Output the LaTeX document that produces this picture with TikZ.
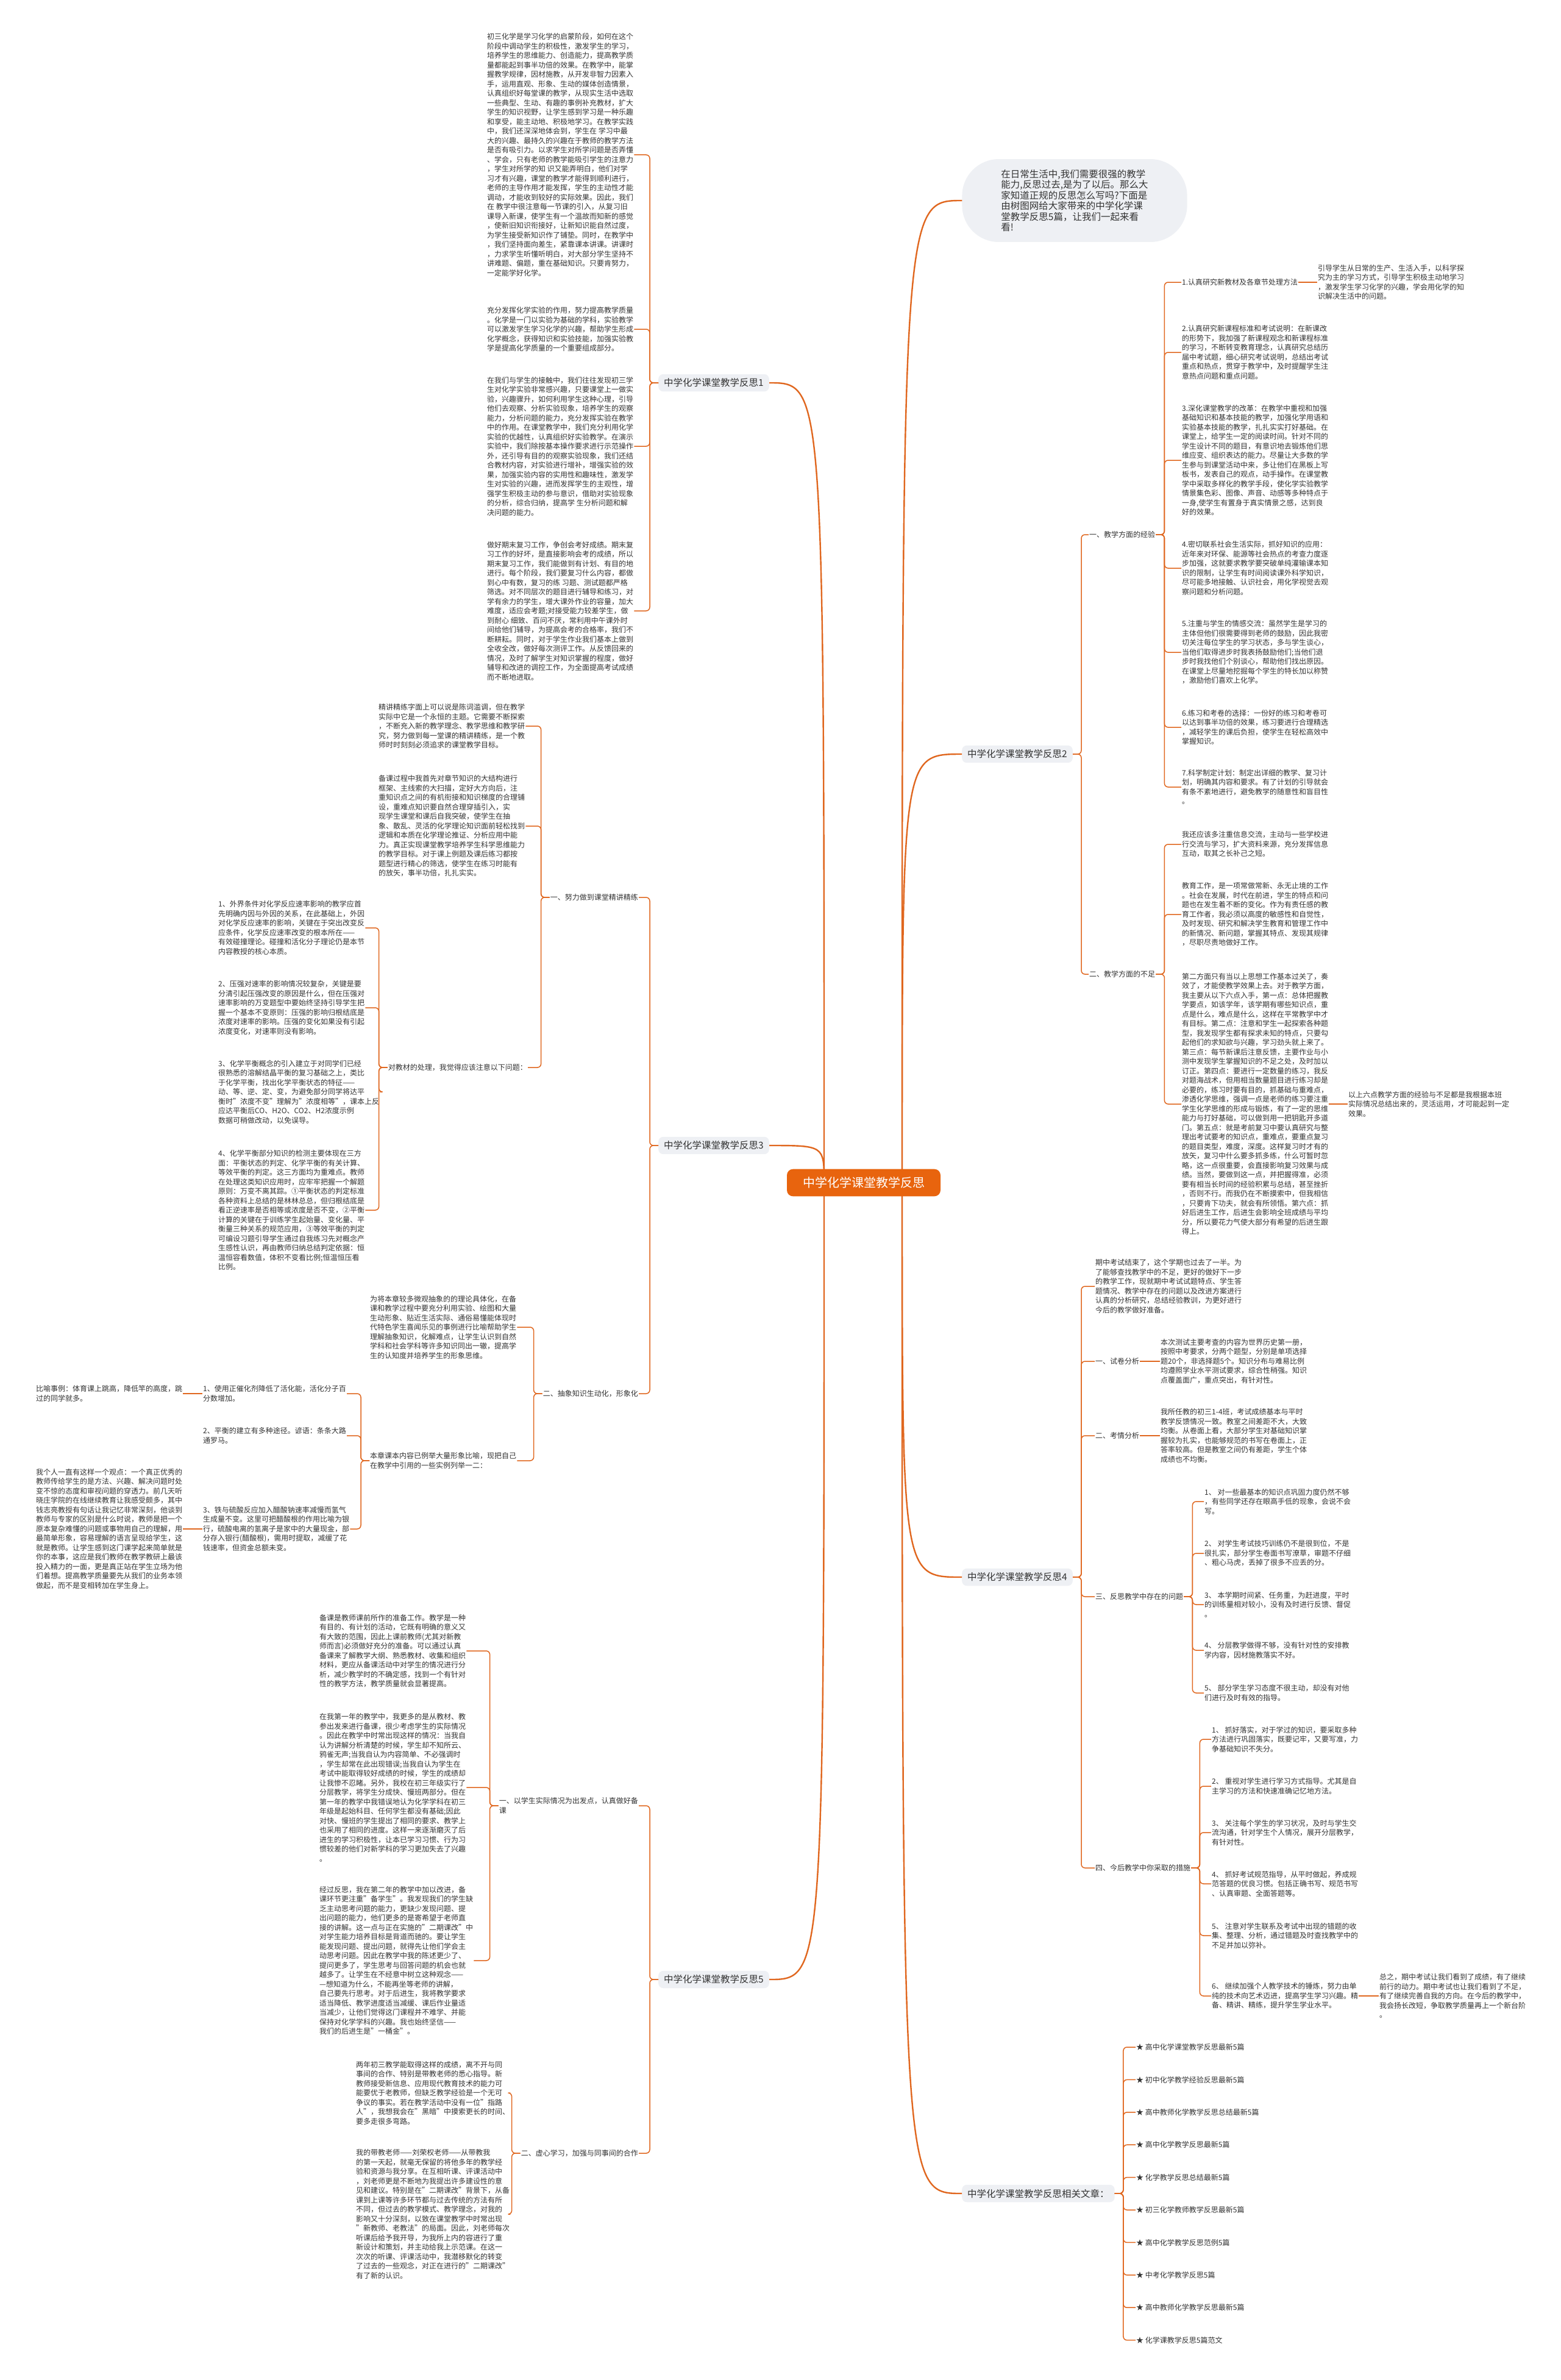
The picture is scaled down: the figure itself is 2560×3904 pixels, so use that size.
\documentclass[tikz,border=0pt]{standalone}
\usepackage{fontspec}
\setmainfont{Noto Sans CJK SC}
\XeTeXlinebreaklocale "zh"
\definecolor{linec}{HTML}{E0671F}
\definecolor{rootc}{HTML}{E8640E}
\definecolor{bubc}{HTML}{EEF0F4}
\definecolor{txtc}{HTML}{333333}
\tikzset{
  txt/.style={font=\fontsize{12}{15.5}\selectfont,align=left,text=txtc,inner sep=1pt},
  brn/.style={font=\fontsize{15.5}{18}\selectfont,text=txtc,fill=bubc,rounded corners=8pt,inner xsep=9pt,inner ysep=7pt},
  rootbox/.style={font=\fontsize{20}{24}\selectfont,text=white,fill=rootc,rounded corners=10pt,inner xsep=26pt,inner ysep=13pt},
  bub/.style={font=\fontsize{15.5}{17.5}\selectfont,align=left,text=txtc,fill=bubc,rounded corners=60pt,inner xsep=64pt,inner ysep=17pt},
  lnk/.style={draw=linec,line width=1.5pt,rounded corners=6pt},
  trk/.style={draw=linec,line width=2.4pt}
}

\begin{document}
\begin{tikzpicture}[x=1pt,y=-1pt]
	\fill[white] (0,0) rectangle (2560,3904);
	\useasboundingbox (0,0) rectangle (2560,3904);

	% intro
	\node[bub] (intro) at (1763,329) {在日常生活中,我们需要很强的教学\\能力,反思过去,是为了以后。那么大\\家知道正规的反思怎么写吗?下面是\\由树图网给大家带来的中学化学课\\堂教学反思5篇，让我们一起来看\\看!};

	% branch 1
	\node[brn,anchor=east] (b1) at (1262,628) {中学化学课堂教学反思1};
	\node[txt,anchor=west] (b1a) at (798,254) {初三化学是学习化学的启蒙阶段，如何在这个\\阶段中调动学生的积极性，激发学生的学习，\\培养学生的思维能力、创造能力，提高教学质\\量都能起到事半功倍的效果。在教学中，能掌\\握教学规律，因材施教，从开发非智力因素入\\手，运用直观、形象、生动的媒体创造情景，\\认真组织好每堂课的教学，从现实生活中选取\\一些典型、生动、有趣的事例补充教材，扩大\\学生的知识视野，让学生感到学习是一种乐趣\\和享受，能主动地、积极地学习。在教学实践\\中，我们还深深地体会到，学生在 学习中最\\大的兴趣、最持久的兴趣在于教师的教学方法\\是否有吸引力。以求学生对所学问题是否弄懂\\、学会，只有老师的教学能吸引学生的注意力\\，学生对所学的知 识又能弄明白，他们对学\\习才有兴趣，课堂的教学才能得到顺利进行，\\老师的主导作用才能发挥，学生的主动性才能\\调动，才能收到较好的实际效果。因此，我们\\在 教学中很注意每一节课的引入，从复习旧\\课导入新课，使学生有一个温故而知新的感觉\\，使新旧知识衔接好，让新知识能自然过度，\\为学生接受新知识作了铺垫。同时，在教学中\\，我们坚持面向差生，紧靠课本讲课。讲课时\\，力求学生听懂听明白，对大部分学生坚持不\\讲难题、偏题，重在基础知识。只要肯努力，\\一定能学好化学。};
	\node[txt,anchor=west] (b1b) at (798,540) {充分发挥化学实验的作用，努力提高教学质量\\。化学是一门以实验为基础的学科，实验教学\\可以激发学生学习化学的兴趣，帮助学生形成\\化学概念，获得知识和实验技能，加强实验教\\学是提高化学质量的一个重要组成部分。};
	\node[txt,anchor=west] (b1c) at (798,732) {在我们与学生的接触中，我们往往发现初三学\\生对化学实验非常感兴趣，只要课堂上一做实\\验，兴趣骤升，如何利用学生这种心理，引导\\他们去观察、分析实验现象，培养学生的观察\\能力，分析问题的能力，充分发挥实验在教学\\中的作用。在课堂教学中，我们充分利用化学\\实验的优越性，认真组织好实验教学。在演示\\实验中，我们除按基本操作要求进行示范操作\\外，还引导有目的的观察实验现象，我们还结\\合教材内容，对实验进行增补，增强实验的效\\果，加强实验内容的实用性和趣味性，激发学\\生对实验的兴趣，进而发挥学生的主观性，增\\强学生积极主动的参与意识，借助对实验现象\\的分析，综合归纳，提高学 生分析问题和解\\决问题的能力。};
	\node[txt,anchor=west] (b1d) at (798,1002) {做好期末复习工作，争创会考好成绩。期末复\\习工作的好坏，是直接影响会考的成绩，所以\\期末复习工作，我们能做到有计划、有目的地\\进行。每个阶段，我们要复习什么内容，都做\\到心中有数，复习的练 习题、测试题都严格\\筛选。对不同层次的题目进行辅导和练习，对\\学有余力的学生，增大课外作业的容量，加大\\难度，适应会考题;对接受能力较差学生，做\\到耐心 细致、百问不厌，常利用中午课外时\\间给他们辅导，为提高会考的合格率，我们不\\断耕耘。同时，对于学生作业我们基本上做到\\全收全改，做好每次测评工作。从反馈回来的\\情况，及时了解学生对知识掌握的程度，做好\\辅导和改进的调控工作，为全面提高考试成绩\\而不断地进取。};

	% branch 2
	\node[brn,anchor=west] (b2) at (1578,1237) {中学化学课堂教学反思2};
	\node[txt,anchor=west] (s21) at (1786,877) {一、教学方面的经验};
	\node[txt,anchor=west] (s22) at (1786,1598) {二、教学方面的不足};
	\node[txt,anchor=west] (i1) at (1938,463) {1.认真研究新教材及各章节处理方法};
	\node[txt,anchor=west] (i1x) at (2161,463) {引导学生从日常的生产、生活入手，以科学探\\究为主的学习方式，引导学生积极主动地学习\\，激发学生学习化学的兴趣，学会用化学的知\\识解决生活中的问题。};
	\node[txt,anchor=west] (i2) at (1938,578) {2.认真研究新课程标准和考试说明：在新课改\\的形势下，我加强了新课程观念和新课程标准\\的学习，不断转变教育理念，认真研究总结历\\届中考试题，细心研究考试说明，总结出考试\\重点和热点，贯穿于教学中，及时提醒学生注\\意热点问题和重点问题。};
	\node[txt,anchor=west] (i3) at (1938,755) {3.深化课堂教学的改革：在教学中重视和加强\\基础知识和基本技能的教学，加强化学用语和\\实验基本技能的教学，扎扎实实打好基础。在\\课堂上，给学生一定的阅读时间。针对不同的\\学生设计不同的题目，有意识地去锻炼他们思\\维应变、组织表达的能力。尽量让大多数的学\\生参与到课堂活动中来，多让他们在黑板上写\\板书，发表自己的观点，动手操作。在课堂教\\学中采取多样化的教学手段，使化学实验教学\\情景集色彩、图像、声音、动感等多种特点于\\一身,使学生有置身于真实情景之感，达到良\\好的效果。};
	\node[txt,anchor=west] (i4) at (1938,932) {4.密切联系社会生活实际，抓好知识的应用：\\近年来对环保、能源等社会热点的考查力度逐\\步加强，这就要求教学要突破单纯灌输课本知\\识的限制，让学生有时间阅读课外科学知识，\\尽可能多地接触、认识社会，用化学视觉去观\\察问题和分析问题。};
	\node[txt,anchor=west] (i5) at (1938,1070) {5.注重与学生的情感交流：虽然学生是学习的\\主体但他们很需要得到老师的鼓励，因此我密\\切关注每位学生的学习状态，多与学生谈心，\\当他们取得进步时我表扬鼓励他们;当他们退\\步时我找他们个别谈心，帮助他们找出原因。\\在课堂上尽量地挖掘每个学生的特长加以称赞\\，激励他们喜欢上化学。};
	\node[txt,anchor=west] (i6) at (1938,1193) {6.练习和考卷的选择：一份好的练习和考卷可\\以达到事半功倍的效果，练习要进行合理精选\\，减轻学生的课后负担，使学生在轻松高效中\\掌握知识。};
	\node[txt,anchor=west] (i7) at (1938,1291) {7.科学制定计划：制定出详细的教学、复习计\\划，明确其内容和要求。有了计划的引导就会\\有条不紊地进行，避免教学的随意性和盲目性\\。};
	\node[txt,anchor=west] (j1) at (1938,1385) {我还应该多注重信息交流，主动与一些学校进\\行交流与学习，扩大资料来源，充分发挥信息\\互动，取其之长补己之短。};
	\node[txt,anchor=west] (j2) at (1938,1500) {教育工作，是一项常做常新、永无止境的工作\\。社会在发展，时代在前进，学生的特点和问\\题也在发生着不断的变化。作为有责任感的教\\育工作者，我必须以高度的敏感性和自觉性，\\及时发现、研究和解决学生教育和管理工作中\\的新情况、新问题，掌握其特点、发现其规律\\，尽职尽责地做好工作。};
	\node[txt,anchor=west] (j3) at (1938,1811) {第二方面只有当以上思想工作基本过关了，奏\\效了，才能使教学效果上去。对于教学方面，\\我主要从以下六点入手，第一点：总体把握教\\学要点，如该学年，该学期有哪些知识点，重\\点是什么，难点是什么，这样在平常教学中才\\有目标。第二点：注意和学生一起探索各种题\\型，我发现学生都有探求未知的特点，只要勾\\起他们的求知欲与兴趣，学习劲头就上来了。\\第三点：每节新课后注意反馈，主要作业与小\\测中发现学生掌握知识的不足之处，及时加以\\订正。第四点：要进行一定数量的练习，我反\\对题海战术，但用相当数量题目进行练习却是\\必要的，练习时要有目的，抓基础与重难点，\\渗透化学思维，强调一点是老师的练习要注重\\学生化学思维的形成与锻炼，有了一定的思维\\能力与打好基础，可以做到用一把钥匙开多道\\门。第五点：就是考前复习中要认真研究与整\\理出考试要考的知识点，重难点，要重点复习\\的题目类型，难度，深度。这样复习时才有的\\放矢，复习中什么要多抓多练，什么可暂时忽\\略，这一点很重要，会直接影响复习效果与成\\绩。当然，要做到这一点，并把握得准，必须\\要有相当长时间的经验积累与总结，甚至挫折\\，否则不行。而我仍在不断摸索中，但我相信\\，只要肯下功夫，就会有所领悟。第六点：抓\\好后进生工作，后进生会影响全班成绩与平均\\分，所以要花力气使大部分有希望的后进生跟\\得上。};
	\node[txt,anchor=west] (j3x) at (2211,1811) {以上六点教学方面的经验与不足都是我根据本班\\实际情况总结出来的，灵活运用，才可能起到一定\\效果。};

	% branch 3
	\node[brn,anchor=east] (b3) at (1262,1879) {中学化学课堂教学反思3};
	\node[txt,anchor=east] (s31) at (1048,1472) {一、努力做到课堂精讲精练};
	\node[txt,anchor=west] (c31a) at (620,1191) {精讲精练字面上可以说是陈词滥调，但在教学\\实际中它是一个永恒的主题。它需要不断探索\\，不断充入新的教学理念、教学思维和教学研\\究，努力做到每一堂课的精讲精练，是一个教\\师时时刻刻必须追求的课堂教学目标。};
	\node[txt,anchor=west] (c31b) at (620,1355) {备课过程中我首先对章节知识的大结构进行\\框架、主线索的大扫描，定好大方向后，注\\重知识点之间的有机衔接和知识梯度的合理铺\\设，重难点知识要自然合理穿插引入，实\\现学生课堂和课后自我突破，使学生在抽\\象、散乱、灵活的化学理论知识面前轻松找到\\逻辑和本质在化学理论推证、分析应用中能\\力。真正实现课堂教学培养学生科学思维能力\\的教学目标。对于课上例题及课后练习都按\\题型进行精心的筛选，使学生在练习时能有\\的放矢，事半功倍，扎扎实实。};
	\node[txt,anchor=east] (s32) at (866,1751) {对教材的处理，我觉得应该注意以下问题：};
	\node[txt,anchor=west] (q1) at (357,1522) {1、外界条件对化学反应速率影响的教学应首\\先明确内因与外因的关系，在此基础上，外因\\对化学反应速率的影响，关键在于突出改变反\\应条件，化学反应速率改变的根本所在——\\有效碰撞理论。碰撞和活化分子理论仍是本节\\内容教授的核心本质。};
	\node[txt,anchor=west] (q2) at (357,1653) {2、压强对速率的影响情况较复杂，关键是要\\分清引起压强改变的原因是什么，但在压强对\\速率影响的万变题型中要始终坚持引导学生把\\握一个基本不变原则：压强的影响归根结底是\\浓度对速率的影响。压强的变化如果没有引起\\浓度变化，对速率则没有影响。};
	\node[txt,anchor=west] (q3) at (357,1791) {3、化学平衡概念的引入建立于对同学们已经\\很熟悉的溶解结晶平衡的复习基础之上，类比\\于化学平衡，找出化学平衡状态的特征——\\动、等、逆、定、变，为避免部分同学将达平\\衡时"浓度不变"理解为"浓度相等"，课本上反\\应达平衡后CO、H2O、CO2、H2浓度示例\\数据可稍做改动，以免误导。};
	\node[txt,anchor=west] (q4) at (357,1985) {4、化学平衡部分知识的检测主要体现在三方\\面：平衡状态的判定、化学平衡的有关计算、\\等效平衡的判定。这三方面均为重难点。教师\\在处理这类知识应用时，应牢牢把握一个解题\\原则：万变不离其踪。①平衡状态的判定标准\\各种资料上总结的是林林总总，但归根结底是\\看正逆速率是否相等或浓度是否不变，②平衡\\计算的关键在于训练学生起始量、变化量、平\\衡量三种关系的规范应用，③等效平衡的判定\\可编设习题引导学生通过自我练习先对概念产\\生感性认识，再由教师归纳总结判定依据：恒\\温恒容看数值，体积不变看比例;恒温恒压看\\比例。};
	\node[txt,anchor=east] (s33) at (1048,2286) {二、抽象知识生动化，形象化};
	\node[txt,anchor=west] (c33a) at (606,2177) {为将本章较多微观抽象的的理论具体化，在备\\课和教学过程中要充分利用实验、绘图和大量\\生动形象、贴近生活实际、通俗易懂能体现时\\代特色学生喜闻乐见的事例进行比喻帮助学生\\理解抽象知识，化解难点，让学生认识到自然\\学科和社会学科等许多知识同出一辙，提高学\\生的认知度并培养学生的形象思维。};
	\node[txt,anchor=west] (s34) at (606,2396) {本章课本内容已例举大量形象比喻，现把自己\\在教学中引用的一些实例列举一二：};
	\node[txt,anchor=west] (k1) at (332,2286) {1、使用正催化剂降低了活化能，活化分子百\\分数增加。};
	\node[txt,anchor=west] (k2) at (332,2355) {2、平衡的建立有多种途径。谚语：条条大路\\通罗马。};
	\node[txt,anchor=west] (k3) at (332,2508) {3、铁与硫酸反应加入醋酸钠速率减慢而氢气\\生成量不变。这里可把醋酸根的作用比喻为银\\行，硫酸电离的氢离子是家中的大量现金，部\\分存入银行(醋酸根)，需用时提取，减缓了花\\钱速率，但资金总额未变。};
	\node[txt,anchor=west] (k1x) at (58,2286) {比喻事例：体育课上跳高，降低竿的高度，跳\\过的同学就多。};
	\node[txt,anchor=west] (k3x) at (58,2508) {我个人一直有这样一个观点：一个真正优秀的\\教师传给学生的是方法、兴趣、解决问题时处\\变不惊的态度和审视问题的穿透力。前几天听\\晓庄学院的在线继续教育让我感受颇多，其中\\钱志亮教授有句话让我记忆非常深刻，他谈到\\教师与专家的区别是什么时说，教师是把一个\\原本复杂难懂的问题或事物用自己的理解，用\\最简单形象，容易理解的语言呈现给学生，这\\就是教师。让学生感到这门课学起来简单就是\\你的本事，这应是我们教师在教学教研上最该\\投入精力的一面，更是真正站在学生立场为他\\们着想。提高教学质量要先从我们的业务本领\\做起，而不是变相转加在学生身上。};

	% branch 4
	\node[brn,anchor=west] (b4) at (1578,2587) {中学化学课堂教学反思4};
	\node[txt,anchor=west] (d0) at (1796,2110) {期中考试结束了，这个学期也过去了一半。为\\了能够查找教学中的不足，更好的做好下一步\\的教学工作，现就期中考试试题特点、学生答\\题情况、教学中存在的问题以及改进方案进行\\认真的分析研究，总结经验教训，为更好进行\\今后的教学做好准备。};
	\node[txt,anchor=west] (s41) at (1796,2233) {一、试卷分析};
	\node[txt,anchor=west] (s41x) at (1903,2233) {本次测试主要考查的内容为世界历史第一册，\\按照中考要求，分两个题型，分别是单项选择\\题20个，非选择题5个。知识分布与难易比例\\均遵照学业水平测试要求，综合性稍强。知识\\点覆盖面广，重点突出，有针对性。};
	\node[txt,anchor=west] (s42) at (1796,2355) {二、考情分析};
	\node[txt,anchor=west] (s42x) at (1903,2355) {我所任教的初三1-4班，考试成绩基本与平时\\教学反馈情况一致。教室之间差距不大，大致\\均衡。从卷面上看，大部分学生对基础知识掌\\握较为扎实，也能够规范的书写在卷面上，正\\答率较高。但是教室之间仍有差距，学生个体\\成绩也不均衡。};
	\node[txt,anchor=west] (s43) at (1796,2619) {三、反思教学中存在的问题};
	\node[txt,anchor=west] (m1) at (1975,2463) {1、 对一些最基本的知识点巩固力度仍然不够\\，有些同学还存在眼高手低的现象，会说不会\\写。};
	\node[txt,anchor=west] (m2) at (1975,2548) {2、 对学生考试技巧训练仍不是很到位，不是\\很扎实，部分学生卷面书写潦草，审题不仔细\\、粗心马虎，丢掉了很多不应丢的分。};
	\node[txt,anchor=west] (m3) at (1975,2632) {3、 本学期时间紧、任务重，为赶进度，平时\\的训练量相对较小，没有及时进行反馈、督促\\。};
	\node[txt,anchor=west] (m4) at (1975,2707) {4、 分层教学做得不够，没有针对性的安排教\\学内容，因材施教落实不好。};
	\node[txt,anchor=west] (m5) at (1975,2777) {5、 部分学生学习态度不很主动，却没有对他\\们进行及时有效的指导。};
	\node[txt,anchor=west] (s44) at (1796,3064) {四、今后教学中你采取的措施};
	\node[txt,anchor=west] (n1) at (1987,2853) {1、 抓好落实，对于学过的知识，要采取多种\\方法进行巩固落实，既要记牢，又要写准，力\\争基础知识不失分。};
	\node[txt,anchor=west] (n2) at (1987,2930) {2、 重视对学生进行学习方式指导。尤其是自\\主学习的方法和快速准确记忆地方法。};
	\node[txt,anchor=west] (n3) at (1987,3006) {3、 关注每个学生的学习状况，及时与学生交\\流沟通，针对学生个人情况，展开分层教学，\\有针对性。};
	\node[txt,anchor=west] (n4) at (1987,3090) {4、 抓好考试规范指导，从平时做起，养成规\\范答题的优良习惯。包括正确书写、规范书写\\、认真审题、全面答题等。};
	\node[txt,anchor=west] (n5) at (1987,3175) {5、 注意对学生联系及考试中出现的错题的收\\集、整理、分析，通过错题及时查找教学中的\\不足并加以弥补。};
	\node[txt,anchor=west] (n6) at (1987,3274) {6、 继续加强个人教学技术的锤炼，努力由单\\纯的技术向艺术迈进，提高学生学习兴趣。精\\备、精讲、精练，提升学生学业水平。};
	\node[txt,anchor=west] (n6x) at (2262,3274) {总之，期中考试让我们看到了成绩，有了继续\\前行的动力。期中考试也让我们看到了不足，\\有了继续完善自我的方向。在今后的教学中，\\我会扬长改短，争取教学质量再上一个新台阶\\。};

	% branch 5
	\node[brn,anchor=east] (b5) at (1262,3247) {中学化学课堂教学反思5};
	\node[txt,anchor=east] (s51) at (1048,2962) {一、以学生实际情况为出发点，认真做好备\\课};
	\node[txt,anchor=west] (c5a) at (523,2708) {备课是教师课前所作的准备工作。教学是一种\\有目的、有计划的活动，它既有明确的意义又\\有大致的范围，因此上课前教师(尤其对新教\\师而言)必须做好充分的准备。可以通过认真\\备课来了解教学大纲、熟悉教材、收集和组织\\材料，更应从备课活动中对学生的情况进行分\\析，减少教学时的不确定感，找到一个有针对\\性的教学方法，教学质量就会显著提高。};
	\node[txt,anchor=west] (c5b) at (523,2932) {在我第一年的教学中，我更多的是从教材、教\\参出发来进行备课，很少考虑学生的实际情况\\。因此在教学中时常出现这样的情况：当我自\\认为讲解分析清楚的时候，学生却不知所云、\\鸦雀无声;当我自认为内容简单、不必强调时\\，学生却常在此出现错误;当我自认为学生在\\考试中能取得较好成绩的时候，学生的成绩却\\让我惨不忍睹。另外，我校在初三年级实行了\\分层教学，将学生分成快、慢班两部分。但在\\第一年的教学中我错误地认为化学学科在初三\\年级是起始科目、任何学生都没有基础;因此\\对快、慢班的学生提出了相同的要求、教学上\\也采用了相同的进度。这样一来逐渐磨灭了后\\进生的学习积极性，让本已学习习惯、行为习\\惯较差的他们对新学科的学习更加失去了兴趣\\。};
	\node[txt,anchor=west] (c5c) at (523,3216) {经过反思，我在第二年的教学中加以改进，备\\课环节更注重"备学生"。我发现我们的学生缺\\乏主动思考问题的能力，更缺少发现问题、提\\出问题的能力，他们更多的是寄希望于老师直\\接的讲解。这一点与正在实施的"二期课改"中\\对学生能力培养目标是背道而驰的。要让学生\\能发现问题、提出问题，就得先让他们学会主\\动思考问题。因此在教学中我的陈述更少了、\\提问更多了，学生思考与回答问题的机会也就\\越多了。让学生在不经意中树立这种观念——\\—想知道为什么，不能再坐等老师的讲解，\\自己要先行思考。对于后进生，我将教学要求\\适当降低、教学进度适当减缓、课后作业量适\\当减少，让他们觉得这门课程并不难学、并能\\保持对化学学科的兴趣。我也始终坚信——\\我们的后进生是"一桶金"。};
	\node[txt,anchor=east] (s52) at (1048,3532) {二、虚心学习，加强与同事间的合作};
	\node[txt,anchor=west] (c5d) at (583,3433) {两年初三教学能取得这样的成绩，离不开与同\\事间的合作、特别是带教老师的悉心指导。新\\教师接受新信息、应用现代教育技术的能力可\\能要优于老教师，但缺乏教学经验是一个无可\\争议的事实。若在教学活动中没有一位"指路\\人"，我想我会在"黑暗"中摸索更长的时间、\\要多走很多弯路。};
	\node[txt,anchor=west] (c5e) at (583,3632) {我的带教老师——刘荣权老师——从带教我\\的第一天起，就毫无保留的将他多年的教学经\\验和资源与我分享。在互相听课、评课活动中\\，刘老师更是不断地为我提出许多建设性的意\\见和建议。特别是在"二期课改"背景下，从备\\课到上课等许多环节都与过去传统的方法有所\\不同，但过去的教学模式、教学理念，对我的\\影响又十分深刻，以致在课堂教学中时常出现\\"新教师、老教法"的局面。因此，刘老师每次\\听课后给予我开导，为我所上内的容进行了重\\新设计和策划，并主动给我上示范课。在这一\\次次的听课、评课活动中，我潜移默化的转变\\了过去的一些观念，对正在进行的"二期课改"\\有了新的认识。};

	% branch 6
	\node[brn,anchor=west] (b6) at (1578,3598) {中学化学课堂教学反思相关文章：};
	\foreach \t [count=\i] in {高中化学课堂教学反思最新5篇,初中化学教学经验反思最新5篇,高中教师化学教学反思总结最新5篇,高中化学教学反思最新5篇,化学教学反思总结最新5篇,初三化学教师教学反思最新5篇,高中化学教学反思范例5篇,中考化学教学反思5篇,高中教师化学教学反思最新5篇,化学课教学反思5篇范文}{
		\node[txt,anchor=west] (r\i) at (1863,{3358+53.4*(\i-1)}) {★ \t};
		\draw[lnk] (b6.east) -- ++(14,0) |- (r\i.west);}

	% connectors
	\foreach \c in {b1a,b1b,b1c,b1d}
		\draw[lnk] (b1.west) -- ++(-14,0) |- (\c.east);
	\foreach \c in {s21,s22}
		\draw[lnk] (b2.east) -- ++(14,0) |- (\c.west);
	\foreach \c in {1,...,7}
		\draw[lnk] (s21.east) -- ++(14,0) |- (i\c.west);
	\foreach \c in {1,2,3}
		\draw[lnk] (s22.east) -- ++(14,0) |- (j\c.west);
	\draw[lnk] (i1.east) -- (i1x.west);
	\draw[lnk] (j3.east) -- (j3x.west);
	\foreach \c in {s31,s33}
		\draw[lnk] (b3.west) -- ++(-14,0) |- (\c.east);
	\foreach \c in {c31a,c31b,s32}
		\draw[lnk] (s31.west) -- ++(-14,0) |- (\c.east);
	\foreach \c in {1,...,4}
		\draw[lnk] (s32.west) -- ++(-14,0) |- (q\c.east);
	\foreach \c in {c33a,s34}
		\draw[lnk] (s33.west) -- ++(-14,0) |- (\c.east);
	\foreach \c in {1,2,3}
		\draw[lnk] (s34.west) -- ++(-14,0) |- (k\c.east);
	\draw[lnk] (k1.west) -- (k1x.east);
	\draw[lnk] (k3.west) -- (k3x.east);
	\foreach \c in {d0,s41,s42,s43,s44}
		\draw[lnk] (b4.east) -- ++(14,0) |- (\c.west);
	\draw[lnk] (s41.east) -- (s41x.west);
	\draw[lnk] (s42.east) -- (s42x.west);
	\foreach \c in {1,...,5}
		\draw[lnk] (s43.east) -- ++(14,0) |- (m\c.west);
	\foreach \c in {1,...,6}
		\draw[lnk] (s44.east) -- ++(14,0) |- (n\c.west);
	\draw[lnk] (n6.east) -- (n6x.west);
	\foreach \c in {s51,s52}
		\draw[lnk] (b5.west) -- ++(-14,0) |- (\c.east);
	\foreach \c in {c5a,c5b,c5c}
		\draw[lnk] (s51.west) -- ++(-14,0) |- (\c.east);
	\foreach \c in {c5d,c5e}
		\draw[lnk] (s52.west) -- ++(-14,0) |- (\c.east);

	% trunks from the centre
	\foreach \t/\y in {intro/329,b2/1237,b4/2587,b6/3598}
		\draw[trk] (1480,1940) .. controls (1480,\y) and (1480,\y) .. (\t.west);
	\foreach \t/\y in {b1/628,b3/1879,b5/3247}
		\draw[trk] (1352,1940) .. controls (1352,\y) and (1352,\y) .. (\t.east);
	\node[rootbox] (root) at (1417,1940) {中学化学课堂教学反思};
\end{tikzpicture}
\end{document}
